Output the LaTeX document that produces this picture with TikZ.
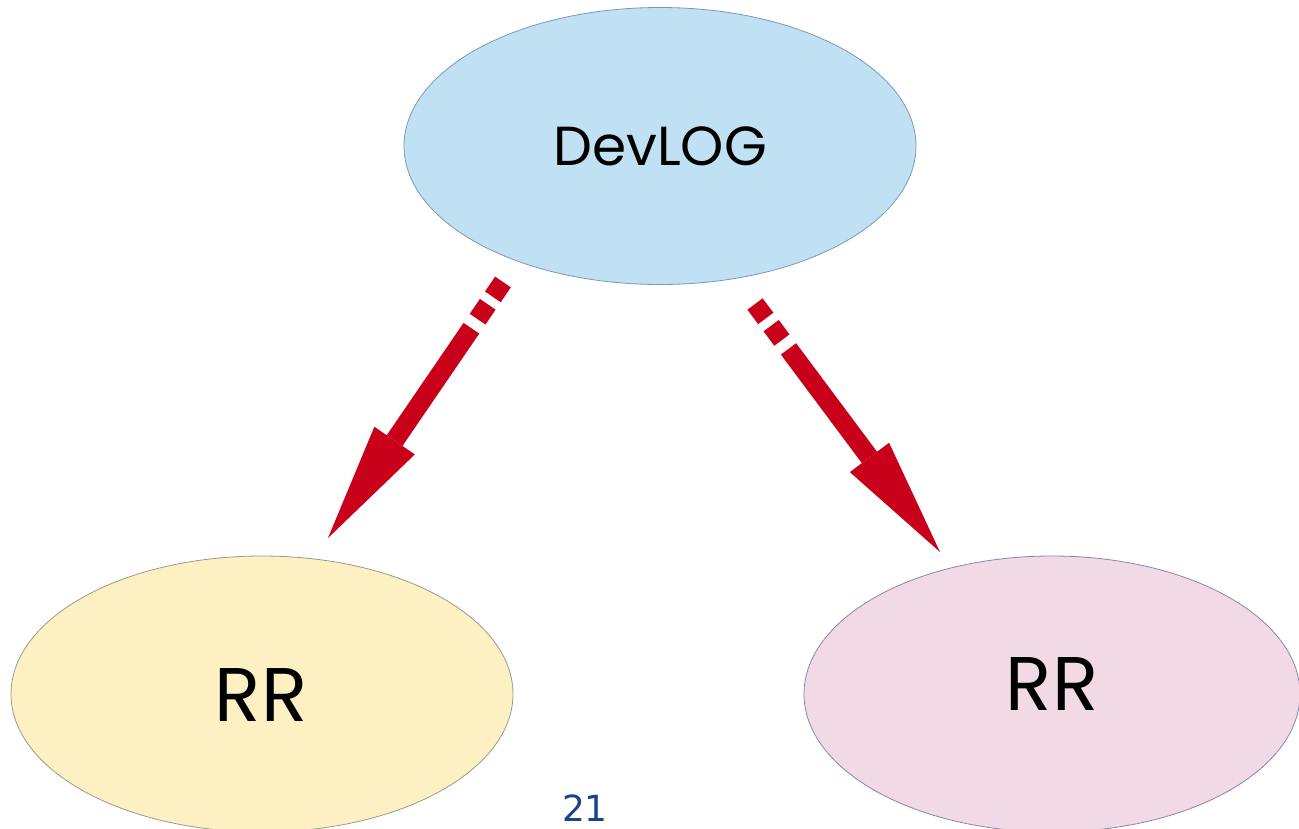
\documentclass[tikz,border=0pt]{standalone}
\usepackage{fontspec}
\setmainfont{Poppins}
\newfontfamily\numfont{DejaVu Sans}
\usetikzlibrary{shapes.geometric,arrows.meta}
\definecolor{topfill}{HTML}{C0E0F3}
\definecolor{topline}{HTML}{7C98B8}
\definecolor{leftfill}{HTML}{FDF0C2}
\definecolor{leftline}{HTML}{9A9A8C}
\definecolor{rightfill}{HTML}{F1D9E6}
\definecolor{rightline}{HTML}{8C86A8}
\definecolor{arrowred}{HTML}{C9001A}
\definecolor{numblue}{HTML}{1B428C}
\tikzset{
  blob/.style={ellipse, draw, line width=0.8pt, inner sep=0pt, text=black},
  bigtext/.style={font=\fontsize{76}{76}\selectfont, text=black, inner sep=0pt},
  bigarrow/.style={draw=arrowred, line width=19pt, line cap=butt,
    dash pattern=on 18pt off 9pt on 18pt off 11pt on 1000pt off 0pt,
    -{Triangle[length=118pt,width=49pt,line width=0pt]}},
}
\begin{document}
\begin{tikzpicture}[x=1pt,y=-1pt]
\useasboundingbox (0,0) rectangle (1299,828);
\node[blob, fill=topfill, draw=topline, minimum width=512pt, minimum height=277pt,
  font=\fontsize{55}{55}\selectfont] (dev) at (660,146) {DevLOG};
\node[blob, fill=leftfill, draw=leftline, minimum width=502pt, minimum height=276pt] (rr1) at (262,694) {};
\node[blob, fill=rightfill, draw=rightline, minimum width=496pt, minimum height=276pt] (rr2) at (1052,694) {};
\node[bigtext] (t1) at ([xshift=-1pt,yshift=-1pt]rr1.center) {RR};
\node[bigtext] (t2) at ([xshift=0pt,yshift=10pt]rr2.center) {RR};
\coordinate (a1s) at (503,282);
\coordinate (a1e) at (328,538);
\coordinate (a2s) at (755,304);
\coordinate (a2e) at (940,552);
\draw[bigarrow] (a1s) -- (a1e);
\draw[bigarrow] (a2s) -- (a2e);
\node[font=\numfont\fontsize{36}{36}\selectfont, text=numblue] (pg) at (585,808) {21};
\end{tikzpicture}
\end{document}
